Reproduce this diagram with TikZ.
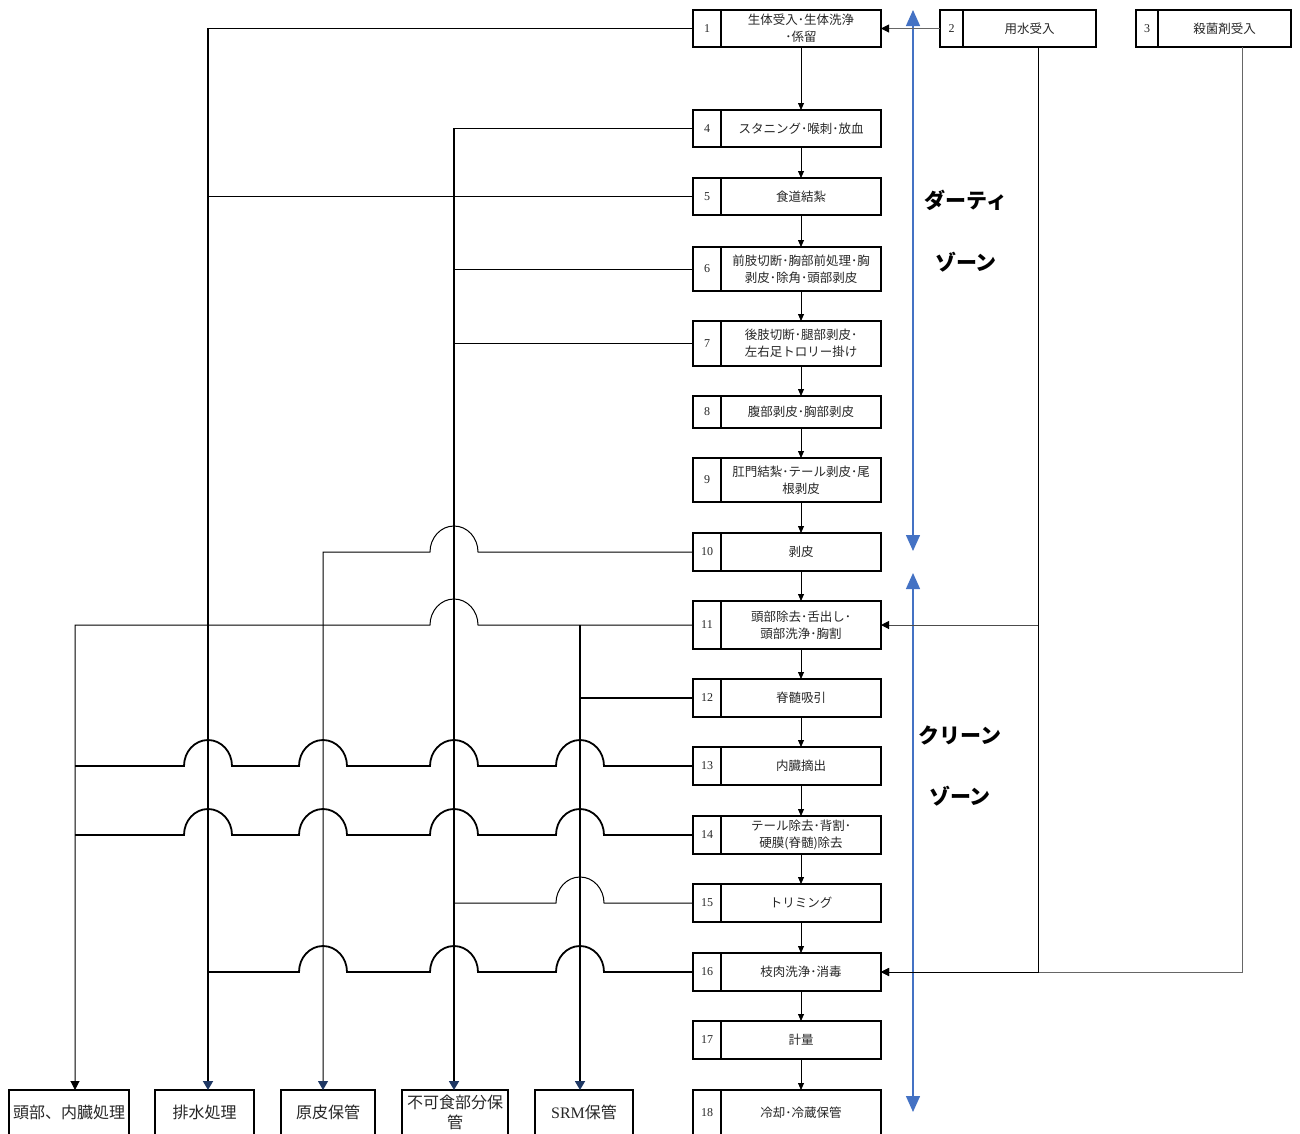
\documentclass[tikz,border=0pt]{standalone}
\usepackage{fontspec}
\setmainfont{Liberation Serif}
\newfontfamily\jp{Noto Sans CJK JP}
\usetikzlibrary{positioning, arrows.meta}
\definecolor{zoneblue}{HTML}{4472C4}
\definecolor{tipnavy}{HTML}{1F3864}
\newcommand{\linehop}{arc[start angle=0, end angle=180, x radius=24pt, y radius=26pt]}

\begin{document}
\begin{tikzpicture}[x=1pt, y=-1pt,
      numcell/.style={rectangle, draw, line width=1.6pt, anchor=north west, minimum width=28pt,
        inner sep=0pt, outer sep=0pt, font=\fontsize{12}{14}\selectfont, text=black!85},
      stepcell/.style={rectangle, draw, line width=1.6pt, minimum width=160pt, inner sep=2pt,
        outer sep=0pt, align=center, font=\jp\fontsize{12.5}{17}\selectfont, text=black!85},
      sinkbox/.style={rectangle, draw, line width=1.8pt, minimum height=45pt, inner sep=1pt,
        outer sep=0pt, align=center, font=\jp\fontsize{16}{20}\selectfont, text=black!85},
      flow/.style={-{Triangle[length=7pt, width=6pt]}, line width=0.8pt},
      feed/.style={-{Triangle[length=8pt, width=8pt, color=black]}, line width=1pt},
      trunk/.style={line width=1.8pt},
      branch/.style={line width=1pt},
      sinkarrow/.style={-{Triangle[length=9pt, width=10pt, color=tipnavy]}},
      zonearrow/.style={{Triangle[length=16pt, width=14pt]}-{Triangle[length=16pt, width=14pt]},
        zoneblue, line width=1.4pt},
      zonelabel/.style={font=\jp\bfseries\fontsize{21}{24}\selectfont}
    ]
    \useasboundingbox (0,0) rectangle (1300,1133);

    % process steps
    \node[numcell, minimum height=37pt] (n1) at (693,10) {1};
    \node[stepcell, minimum height=37pt, right=0pt of n1] (s1) {生体受入･生体洗浄\\･係留};
    \node[numcell, minimum width=23pt, minimum height=37pt] (n2) at (940,10) {2};
    \node[stepcell, minimum width=133pt, minimum height=37pt, right=0pt of n2] (s2) {用水受入};
    \node[numcell, minimum width=22pt, minimum height=37pt] (n3) at (1136,10) {3};
    \node[stepcell, minimum width=133pt, minimum height=37pt, right=0pt of n3] (s3) {殺菌剤受入};
    \node[numcell, minimum height=37pt] (n4) at (693,110) {4};
    \node[stepcell, minimum height=37pt, right=0pt of n4] (s4) {スタニング･喉刺･放血};
    \node[numcell, minimum height=37pt] (n5) at (693,178) {5};
    \node[stepcell, minimum height=37pt, right=0pt of n5] (s5) {食道結紮};
    \node[numcell, minimum height=44pt] (n6) at (693,247) {6};
    \node[stepcell, minimum height=44pt, right=0pt of n6] (s6) {前肢切断･胸部前処理･胸\\剥皮･除角･頭部剥皮};
    \node[numcell, minimum height=45pt] (n7) at (693,321) {7};
    \node[stepcell, minimum height=45pt, right=0pt of n7] (s7) {後肢切断･腿部剥皮･\\左右足トロリー掛け};
    \node[numcell, minimum height=32pt] (n8) at (693,396) {8};
    \node[stepcell, minimum height=32pt, right=0pt of n8] (s8) {腹部剥皮･胸部剥皮};
    \node[numcell, minimum height=44pt] (n9) at (693,458) {9};
    \node[stepcell, minimum height=44pt, right=0pt of n9] (s9) {肛門結紮･テール剥皮･尾\\根剥皮};
    \node[numcell, minimum height=38pt] (n10) at (693,533) {10};
    \node[stepcell, minimum height=38pt, right=0pt of n10] (s10) {剥皮};
    \node[numcell, minimum height=48pt] (n11) at (693,601) {11};
    \node[stepcell, minimum height=48pt, right=0pt of n11] (s11) {頭部除去･舌出し･\\頭部洗浄･胸割};
    \node[numcell, minimum height=38pt] (n12) at (693,679) {12};
    \node[stepcell, minimum height=38pt, right=0pt of n12] (s12) {脊髄吸引};
    \node[numcell, minimum height=38pt] (n13) at (693,747) {13};
    \node[stepcell, minimum height=38pt, right=0pt of n13] (s13) {内臓摘出};
    \node[numcell, minimum height=38pt] (n14) at (693,816) {14};
    \node[stepcell, minimum height=38pt, right=0pt of n14] (s14) {テール除去･背割･\\硬膜(脊髄)除去};
    \node[numcell, minimum height=38pt] (n15) at (693,884) {15};
    \node[stepcell, minimum height=38pt, right=0pt of n15] (s15) {トリミング};
    \node[numcell, minimum height=38pt] (n16) at (693,953) {16};
    \node[stepcell, minimum height=38pt, right=0pt of n16] (s16) {枝肉洗浄･消毒};
    \node[numcell, minimum height=38pt] (n17) at (693,1021) {17};
    \node[stepcell, minimum height=38pt, right=0pt of n17] (s17) {計量};
    \node[numcell, minimum height=45pt] (n18) at (693,1090) {18};
    \node[stepcell, minimum height=45pt, right=0pt of n18] (s18) {冷却･冷蔵保管};

    % destinations
    \node[sinkbox, minimum width=120pt] (hd) at (69,1112.5) {頭部、内臓処理};
    \node[sinkbox, minimum width=99pt] (dr) at (204.5,1112.5) {排水処理};
    \node[sinkbox, minimum width=94pt] (gh) at (328,1112.5) {原皮保管};
    \node[sinkbox, minimum width=106pt] (ff) at (455,1112.5) {不可食部分保\\管};
    \node[sinkbox, minimum width=98pt] (sr) at (584,1112.5) {{\rmfamily SRM}保管};
    \coordinate (hd-in) at ([xshift=6pt]hd.north);
    \coordinate (dr-in) at ([xshift=3.5pt]dr.north);
    \coordinate (gh-in) at ([xshift=-5pt]gh.north);
    \coordinate (ff-in) at ([xshift=-1pt]ff.north);
    \coordinate (sr-in) at ([xshift=-4pt]sr.north);

    % zones
    \coordinate (dz-top) at (913,10);
    \coordinate (dz-bot) at (913,551);
    \coordinate (cz-top) at (913,573);
    \coordinate (cz-bot) at (913,1112);
    \draw[zonearrow] (dz-top) -- (dz-bot);
    \draw[zonearrow] (cz-top) -- (cz-bot);
    \node[zonelabel] (dz1) at (966,200) {ダーティ};
    \node[zonelabel] (dz2) at (966,262) {ゾーン};
    \node[zonelabel] (cz1) at (960,735) {クリーン};
    \node[zonelabel] (cz2) at (960,796) {ゾーン};

    % main line
    \foreach \a/\b in {1/4, 4/5, 5/6, 6/7, 7/8, 8/9, 9/10, 10/11, 11/12, 12/13, 13/14, 14/15, 15/16, 16/17, 17/18}
      \draw[flow] (s\a.south) -- (s\b.north);

    % water and disinfectant
    \coordinate (w2) at ([xshift=8.5pt]s2.south);
    \coordinate (w3) at ([xshift=17.5pt]s3.south);
    \draw[feed, black!60] (n2.west) -- (s1.east);
    \draw[feed, black!60] (w3) |- (s16.east);
    \draw[feed] (w2) |- (s16.east);
    \draw[feed, black!70] (w2 |- s11.east) -- (s11.east);

    % by-products
    \draw[trunk, sinkarrow] (n1.west) -| (dr-in);
    \draw[trunk, sinkarrow] (n4.west) -| (ff-in);
    \draw[branch] (n5.west) -- (n5.west -| dr-in);
    \draw[branch] (n6.west) -- (n6.west -| ff-in);
    \draw[branch] (n7.west) -- (n7.west -| ff-in);
    \draw[branch, sinkarrow] (n10.west) -- ([xshift=24pt]n10.west -| ff-in) \linehop -| (gh-in);
    \draw[branch, -{Triangle[length=9pt, width=9pt]}] (n11.west) -- ([xshift=24pt]n11.west -| ff-in) \linehop -| (hd-in);
    \draw[trunk, sinkarrow] (n11.west -| sr-in) -- (sr-in);
    \draw[trunk] (n12.west) -- (n12.west -| sr-in);
    \foreach \r in {13, 14}
      \draw[trunk] (n\r.west) -- ([xshift=24pt]n\r.west -| sr-in) \linehop
        -- ([xshift=24pt]n\r.west -| ff-in) \linehop
        -- ([xshift=24pt]n\r.west -| gh-in) \linehop
        -- ([xshift=24pt]n\r.west -| dr-in) \linehop
        -- (n\r.west -| hd-in);
    \draw[branch] (n15.west) -- ([xshift=24pt]n15.west -| sr-in) \linehop -- (n15.west -| ff-in);
    \draw[trunk] (n16.west) -- ([xshift=24pt]n16.west -| sr-in) \linehop
      -- ([xshift=24pt]n16.west -| ff-in) \linehop
      -- ([xshift=24pt]n16.west -| gh-in) \linehop
      -- (n16.west -| dr-in);
  \end{tikzpicture}
\end{document}
